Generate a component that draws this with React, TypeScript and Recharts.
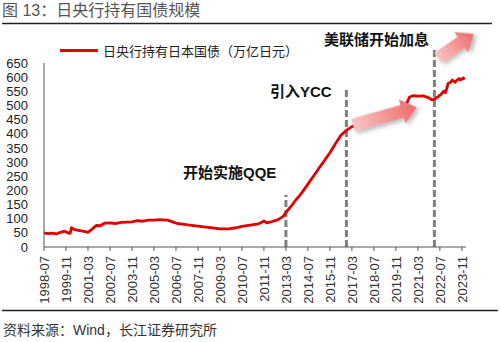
import { Legend, Line, LineChart, ReferenceLine, XAxis, YAxis } from "recharts";

const FONT = "'Liberation Sans', 'Noto Sans CJK SC', sans-serif";

const dates = [
  "1998-07", "1998-10", "1999-01", "1999-04", "1999-07", "1999-10", "2000-01", "2000-02",
  "2000-03", "2000-05", "2000-07", "2000-10", "2001-01", "2001-03", "2001-06", "2001-09",
  "2001-12", "2002-03", "2002-07", "2002-11", "2003-03", "2003-07", "2003-11", "2004-03",
  "2004-07", "2004-11", "2005-03", "2005-07", "2005-10", "2006-01", "2006-05", "2006-08",
  "2007-01", "2007-05", "2007-11", "2008-05", "2008-11", "2009-03", "2009-09", "2010-03",
  "2010-07", "2011-01", "2011-07", "2011-09", "2011-11", "2012-01", "2012-05", "2012-09",
  "2013-01", "2013-04", "2013-07", "2013-10", "2014-01", "2014-03", "2014-07", "2014-11",
  "2015-03", "2015-07", "2015-11", "2016-03", "2016-07", "2016-11", "2017-03", "2017-07",
  "2017-11", "2018-03", "2018-07", "2018-11", "2019-03", "2019-07", "2019-11", "2020-03",
  "2020-06", "2020-08", "2020-09", "2020-12", "2021-03", "2021-07", "2021-11", "2022-01",
  "2022-03", "2022-06", "2022-08", "2022-10", "2022-11", "2022-12", "2023-01", "2023-03",
  "2023-04", "2023-06", "2023-07", "2023-09", "2023-10", "2023-12", "2024-01",
];

const holdings = [
  50, 47, 49, 46, 52, 56, 49, 48,
  68, 62, 60, 57, 54, 52, 63, 76,
  75, 84, 85, 83, 87, 88, 89, 93,
  91, 95, 95, 97, 96, 95, 88, 83,
  80, 77, 74, 70, 67, 64, 64, 68,
  73, 77, 82, 86, 92, 85, 90, 96,
  108, 128, 145, 165, 182, 195, 222, 250,
  278, 305, 333, 365, 395, 412, 425, 434,
  442, 450, 457, 464, 468, 473, 478, 485,
  497, 520, 530, 535, 533, 534, 527, 520,
  522, 532, 540, 551, 545, 560, 578, 583,
  590, 582, 588, 595, 590, 597, 592,
];

const xTickLabels = [
  "1998-07", "1999-11", "2001-03", "2002-07", "2003-11", "2005-03", "2006-07", "2007-11",
  "2009-03", "2010-07", "2011-11", "2013-03", "2014-07", "2015-11", "2017-03", "2018-07",
  "2019-11", "2021-03", "2022-07", "2023-11",
];

const yTicks = [0, 50, 100, 150, 200, 250, 300, 350, 400, 450, 500, 550, 600, 650];

const events = [
  { date: "2013-03", top: 185 },
  { date: "2016-11", top: 558 },
  { date: "2022-03", top: 706 },
];

const toMonth = (d: string) => {
  const [y, m] = d.split("-").map(Number);
  return (y - 1998) * 12 + (m - 7);
};
const fromMonth = (n: number) => {
  const total = 1998 * 12 + 6 + n;
  const y = Math.floor(total / 12);
  const m = (total % 12) + 1;
  return `${y}-${String(m).padStart(2, "0")}`;
};

const data = dates.map((d, i) => ({ m: toMonth(d), v: holdings[i] }));

const XTick = ({ x, y, payload }: any) => (
  <text
    x={x}
    y={y}
    transform={`rotate(-90 ${x} ${y})`}
    textAnchor="end"
    dy="0.36em"
    fontSize={13}
    fill="#333"
    fontFamily={FONT}
  >
    {fromMonth(payload.value)}
  </text>
);

const LegendBox = () => (
  <div style={{ display: "flex", alignItems: "center", fontFamily: FONT, fontSize: 13, color: "#222" }}>
    <span style={{ width: 38, height: 3, background: "#e00000", marginRight: 5 }} />
    日央行持有日本国债（万亿日元）
  </div>
);

const Arrow = ({ x, y, angle, len, id }: { x: number; y: number; angle: number; len: number; id: string }) => {
  const hl = 15;
  const bw = 6.5;
  const hw = 12.5;
  const pts = [
    [0, -bw], [len - hl, -bw], [len - hl, -hw], [len, 0], [len - hl, hw], [len - hl, bw], [0, bw],
  ].map((p) => p.join(",")).join(" ");
  return (
    <g transform={`translate(${x} ${y}) rotate(${angle})`} filter="url(#shadow)">
      <polygon points={pts} fill={`url(#${id})`} />
    </g>
  );
};

export default function App() {
  return (
    <div style={{ position: "absolute", left: 0, top: 0, width: 500, height: 342, background: "#fff" }}>
      <LineChart width={500} height={342} data={data} margin={{ top: 44, right: 34, bottom: 31, left: 0 }}>
        <XAxis
          type="number"
          dataKey="m"
          domain={[0, 307]}
          ticks={xTickLabels.map(toMonth)}
          interval={0}
          height={64}
          tickSize={4}
          tickMargin={5}
          tick={<XTick />}
          stroke="#555"
        />
        <YAxis
          domain={[0, 650]}
          ticks={yTicks}
          interval={0}
          width={44}
          tickLine={false}
          tickMargin={10}
          stroke="#555"
          tick={{ fontSize: 13, fill: "#222", fontFamily: FONT }}
        />
        {events.map((e) => (
          <ReferenceLine
            key={e.date}
            segment={[{ x: toMonth(e.date), y: 0 }, { x: toMonth(e.date), y: e.top }]}
            stroke="#7f7f7f"
            strokeWidth={3}
            strokeDasharray="7 3"
            ifOverflow="visible"
          />
        ))}
        <Legend
          verticalAlign="top"
          content={<LegendBox />}
          wrapperStyle={{ position: "absolute", top: 41, left: 60, width: "auto" }}
        />
        <Line
          type="linear"
          dataKey="v"
          stroke="#e00000"
          strokeWidth={2.8}
          strokeLinejoin="round"
          dot={false}
          isAnimationActive={false}
        />
      </LineChart>
      <svg
        width={500}
        height={342}
        style={{ position: "absolute", left: 0, top: 0, pointerEvents: "none" }}
        fontFamily={FONT}
      >
        <defs>
          <linearGradient id="g1" x1="0" x2="1" y1="0" y2="0">
            <stop offset="0" stopColor="#f7c4c4" />
            <stop offset="1" stopColor="#ef6a6a" />
          </linearGradient>
          <filter id="shadow" x="-20%" y="-50%" width="150%" height="200%">
            <feDropShadow dx="2" dy="3" stdDeviation="2" floodColor="#777" floodOpacity="0.5" />
          </filter>
        </defs>
        <text x={2} y={16} fontSize={16} fill="#555">图 13：日央行持有国债规模</text>
        <line x1={2} x2={492} y1={23.5} y2={23.5} stroke="#222" strokeWidth={1.5} />
        <line x1={2} x2={498} y1={310.5} y2={310.5} stroke="#222" strokeWidth={1.5} />
        <text x={3} y={335} fontSize={14} fill="#333">资料来源：Wind，长江证券研究所</text>
        <text x={183} y={178} fontSize={15} fontWeight="bold" fill="#111">开始实施QQE</text>
        <text x={270} y={97} fontSize={15} fontWeight="bold" fill="#111">引入YCC</text>
        <text x={324} y={45} fontSize={15} fontWeight="bold" fill="#111">美联储开始加息</text>
        <Arrow x={353} y={125} angle={-15.5} len={66} id="g1" />
        <Arrow x={438} y={58} angle={-34} len={43} id="g1" />
      </svg>
    </div>
  );
}
